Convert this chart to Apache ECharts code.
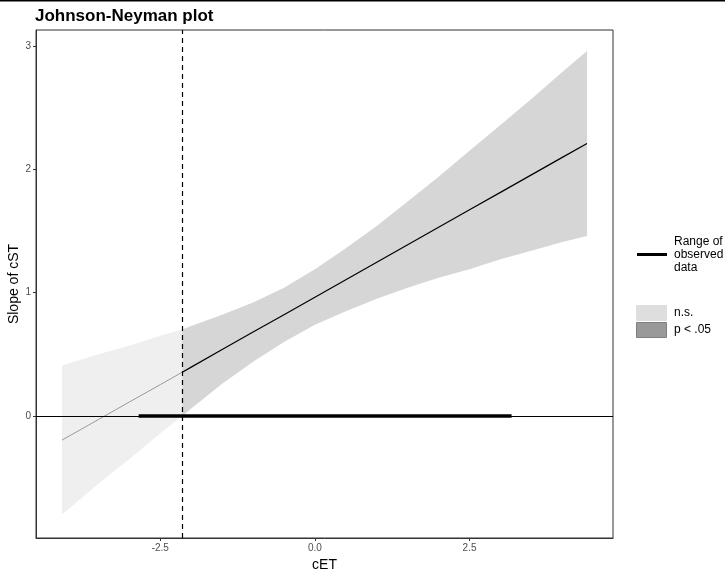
<!DOCTYPE html>
<html>
<head>
<meta charset="utf-8">
<script src="https://cdn.jsdelivr.net/npm/echarts@6/dist/echarts.min.js"></script>
<style>html,body{margin:0;padding:0;background:#fff}#c{width:725px;height:571px}</style>
</head>
<body>
<div id="c"></div>
<script>
// ---- data ----
const cET   = [-4.09, -3.5, -3.0, -2.5, -2.145, -2.0, -1.5, -1.0, -0.5, 0.0, 0.5, 1.0, 1.5, 2.0, 2.5, 3.0, 3.5, 4.0, 4.40];
const slope = [-0.196, -0.029, 0.113, 0.254, 0.355, 0.396, 0.538, 0.680, 0.821, 0.963, 1.105, 1.246, 1.388, 1.530, 1.672, 1.813, 1.955, 2.097, 2.210];
const upper = [0.41, 0.50, 0.57, 0.65, 0.70, 0.73, 0.82, 0.92, 1.04, 1.19, 1.36, 1.54, 1.74, 1.94, 2.15, 2.36, 2.57, 2.79, 2.96];
const lower = [-0.80, -0.55, -0.35, -0.14, 0.00, 0.06, 0.26, 0.44, 0.60, 0.74, 0.85, 0.95, 1.04, 1.12, 1.19, 1.27, 1.34, 1.41, 1.46];
const jnPoint = -2.145;
const observedRange = [-2.85, 3.18];
const xTicks = [-2.5, 0.0, 2.5];
const yTicks = [0, 1, 2, 3];
const legendLabels = ['Range of\nobserved\ndata', 'n.s.', 'p < .05'];

// ---- build ----
const rows = cET.map((x, i) => [x, lower[i], upper[i], slope[i]]);
const nsRows = rows.filter(r => r[0] <= jnPoint);
const sigRows = rows.filter(r => r[0] >= jnPoint);

function bandRender(list, color) {
  return function (params, api) {
    if (params.dataIndex !== 0) return null;
    const pts = [];
    for (const r of list) pts.push(api.coord([r[0], r[2]]));
    for (let i = list.length - 1; i >= 0; i--) pts.push(api.coord([list[i][0], list[i][1]]));
    return { type: 'polygon', shape: { points: pts, smooth: 0 }, style: { fill: color, stroke: null } };
  };
}

const FONT = 'Liberation Sans, Arial, sans-serif';
const chart = echarts.init(document.getElementById('c'));
chart.setOption({
  animation: false,
  backgroundColor: '#fff',
  title: {
    text: 'Johnson-Neyman plot', left: 30, top: 3,
    textStyle: { fontFamily: FONT, fontSize: 17, fontWeight: 'bold', color: '#000' }
  },
  grid: { left: 36, right: 112, top: 30, bottom: 33, outerBoundsMode: 'none', containLabel: false, show: true, borderColor: '#333', borderWidth: 1, backgroundColor: 'transparent' },
  xAxis: {
    type: 'value', min: -4.51, max: 4.82,
    name: 'cET', nameLocation: 'middle', nameGap: 18,
    nameTextStyle: { fontFamily: FONT, fontSize: 14, color: '#000' },
    splitLine: { show: false },
    axisLine: { show: true, onZero: false, lineStyle: { color: '#333', width: 1 } },
    axisTick: { show: true, length: 3, customValues: xTicks, lineStyle: { color: '#333' } },
    axisLabel: { customValues: xTicks, formatter: v => v.toFixed(1), fontFamily: FONT, fontSize: 10, color: '#4d4d4d', margin: 5 }
  },
  yAxis: {
    type: 'value', min: -0.99, max: 3.13,
    name: 'Slope of cST', nameLocation: 'middle', nameGap: 15, nameMoveOverlap: false,
    nameTextStyle: { fontFamily: FONT, fontSize: 14, color: '#000' },
    splitLine: { show: false },
    axisLine: { show: true, onZero: false, lineStyle: { color: '#333', width: 1 } },
    axisTick: { show: true, length: 3, customValues: yTicks, lineStyle: { color: '#333' } },
    axisLabel: { customValues: yTicks, formatter: v => String(v), fontFamily: FONT, fontSize: 10, color: '#4d4d4d', margin: 5 }
  },
  series: [
    { type: 'custom', name: 'n.s.', data: nsRows, renderItem: bandRender(nsRows, '#efefef'), z: 1, silent: true, clip: true },
    { type: 'custom', name: 'p < .05', data: sigRows, renderItem: bandRender(sigRows, '#d6d6d6'), z: 1, silent: true, clip: true },
    {
      type: 'line', data: [[observedRange[0], 0], [observedRange[1], 0]], symbol: 'none', z: 4,
      lineStyle: { color: '#000', width: 3.5 },
      markLine: {
        silent: true, symbol: 'none', label: { show: false },
        data: [{ yAxis: 0, lineStyle: { color: '#000', width: 1.2, type: 'solid' } }]
      }
    },
    { type: 'line', data: nsRows.map(r => [r[0], r[3]]), symbol: 'none', z: 3, lineStyle: { color: '#999', width: 1 } },
    {
      type: 'line', data: sigRows.map(r => [r[0], r[3]]), symbol: 'none', z: 3, lineStyle: { color: '#000', width: 1.2 },
      markLine: {
        silent: true, symbol: 'none', label: { show: false },
        data: [{ xAxis: jnPoint, lineStyle: { color: '#000', width: 1.2, type: [5, 4] } }]
      }
    }
  ],
  graphic: [
    { type: 'line', shape: { x1: 0, y1: 0.5, x2: 725, y2: 0.5 }, style: { stroke: '#000', lineWidth: 2 } },
    { type: 'line', shape: { x1: 637, y1: 254.5, x2: 667, y2: 254.5 }, style: { stroke: '#000', lineWidth: 3 } },
    { type: 'text', left: 674, top: 235, style: { text: legendLabels[0], font: '12px ' + FONT, fill: '#000', lineHeight: 13 } },
    { type: 'rect', shape: { x: 636.5, y: 305.5, width: 30, height: 15 }, style: { fill: '#dedede', stroke: '#dedede' } },
    { type: 'rect', shape: { x: 636.5, y: 322.5, width: 30, height: 15 }, style: { fill: '#999', stroke: '#7f7f7f' } },
    { type: 'text', left: 674, top: 307, style: { text: legendLabels[1], font: '12px ' + FONT, fill: '#000' } },
    { type: 'text', left: 674, top: 324, style: { text: legendLabels[2], font: '12px ' + FONT, fill: '#000' } }
  ]
});
</script>
</body>
</html>
